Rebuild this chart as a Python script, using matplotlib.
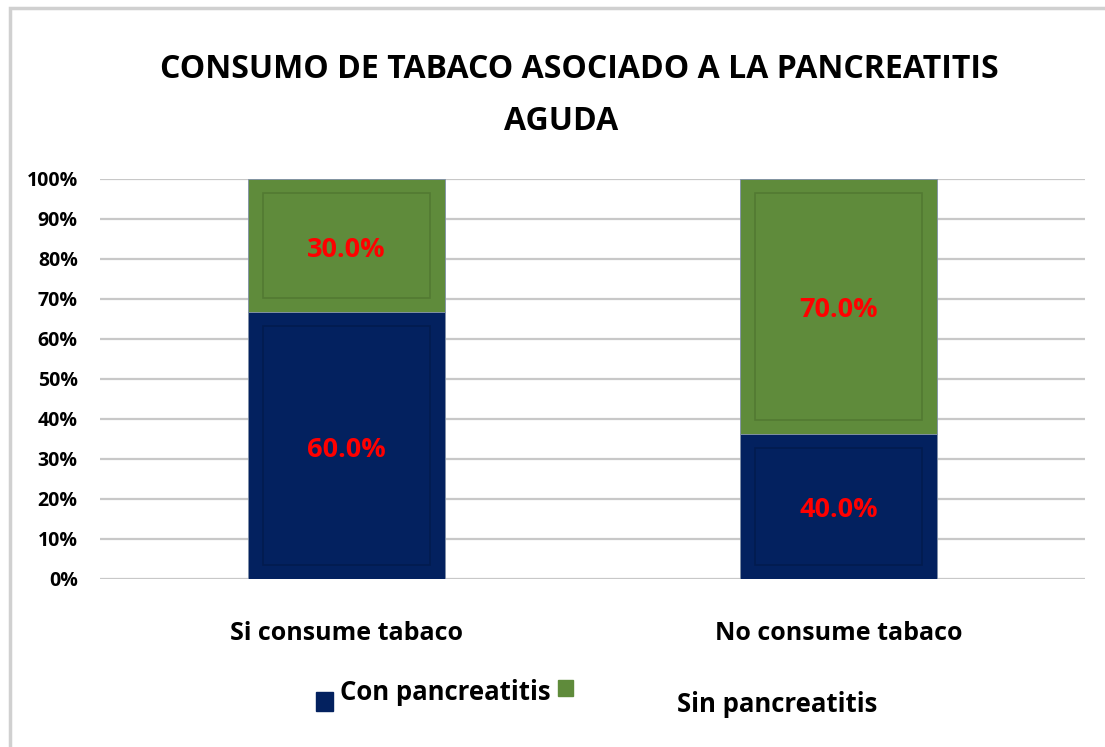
import matplotlib
matplotlib.use("Agg")
import matplotlib.pyplot as plt  # noqa: E402
from matplotlib.patches import Rectangle  # noqa: E402

categories = ["Si consume tabaco", "No consume tabaco"]
con_pancreatitis = [60.0, 40.0]
sin_pancreatitis = [30.0, 70.0]
yticks = [0, 10, 20, 30, 40, 50, 60, 70, 80, 90, 100]

BLUE = "#03215F"
GREEN = "#5F8B3B"
FONT = "Open Sans"

totals = [a + b for a, b in zip(con_pancreatitis, sin_pancreatitis)]
con_pct = [a / t * 100 for a, t in zip(con_pancreatitis, totals)]
sin_pct = [b / t * 100 for b, t in zip(sin_pancreatitis, totals)]

fig = plt.figure(figsize=(11.05, 7.47), dpi=100)
ax = fig.add_axes([100 / 1105, 1 - 579 / 747, 985 / 1105, 400 / 747])

# frame of the chart area (only left and top edges visible)
fig.patches.append(Rectangle((10 / 1105, -0.1), 1.2, 1 - 8 / 747 + 0.1,
                             transform=fig.transFigure, fill=False,
                             edgecolor="#D0D0D0", linewidth=2.5))

x = list(range(len(categories)))
width = 0.4
ax.set_axisbelow(True)
ax.yaxis.grid(True, color="#C8C8C8", linewidth=1.6)


def bevel_bars(bottoms, heights, color, edge):
    bars = ax.bar(x, heights, width, bottom=bottoms, color=color,
                  edgecolor="#8090A8", linewidth=0.6)
    for b in bars:
        dx, dy = 0.03, 3.5
        ax.add_patch(Rectangle((b.get_x() + dx, b.get_y() + dy),
                               b.get_width() - 2 * dx, b.get_height() - 2 * dy,
                               fill=False, edgecolor=edge, linewidth=1.2))
    return bars


bevel_bars([0, 0], con_pct, BLUE, "#021B4F")
bevel_bars(con_pct, sin_pct, GREEN, "#527A32")

label_kw = dict(ha="center", va="center", color="red", fontsize=19.5,
                fontweight="bold", family=FONT, textcoords="offset points",
                xytext=(0, -3))
for i in x:
    ax.annotate(f"{con_pancreatitis[i]:.1f}%", (i, con_pct[i] / 2), **label_kw)
    ax.annotate(f"{sin_pancreatitis[i]:.1f}%",
                (i, con_pct[i] + sin_pct[i] / 2), **label_kw)

ax.set_xlim(-0.5, 1.5)
ax.set_ylim(0, 100)
ax.set_yticks(yticks)
ax.set_yticklabels([f"{t}%" for t in yticks], fontsize=14,
                   fontweight="bold", family=FONT)
ax.set_xticks(x)
ax.set_xticklabels(categories, fontsize=18, fontweight="bold", family=FONT)
ax.tick_params(axis="y", length=0, pad=16)
ax.tick_params(axis="x", length=0, pad=30)
for s in ax.spines.values():
    s.set_visible(False)

fig.text(0.524, 1 - 70 / 747, "CONSUMO DE TABACO ASOCIADO A LA PANCREATITIS",
         ha="center", va="center", fontsize=23, fontweight="bold", family=FONT)
fig.text(0.508, 1 - 121 / 747, "AGUDA", ha="center", va="center",
         fontsize=23, fontweight="bold", family=FONT)

# legend, laid out by hand like the original
fig.patches.append(Rectangle((316 / 1105, 1 - 711 / 747), 17 / 1105, 19 / 747,
                             transform=fig.transFigure, color=BLUE))
fig.text(340 / 1105, 1 - 693 / 747, "Con pancreatitis", ha="left",
         va="center", fontsize=18.5, fontweight="bold", family=FONT)
fig.patches.append(Rectangle((558 / 1105, 1 - 696 / 747), 15 / 1105, 16 / 747,
                             transform=fig.transFigure, color=GREEN))
fig.text(677 / 1105, 1 - 704 / 747, "Sin pancreatitis", ha="left",
         va="center", fontsize=18.5, fontweight="bold", family=FONT)

fig.savefig("out.png", dpi=100)
